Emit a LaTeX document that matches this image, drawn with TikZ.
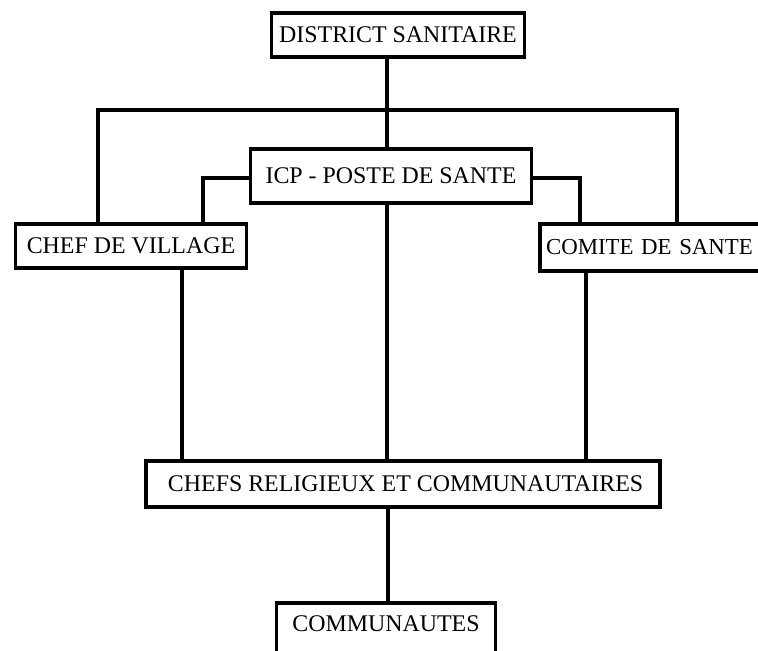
\documentclass[tikz,border=0pt]{standalone}
\usepackage{fontspec}
\setmainfont{Liberation Serif}
\tikzset{
  box/.style={draw, line width=2.2pt, fill=white, inner sep=0pt, font=\fontsize{13.6}{16}\selectfont},
  link/.style={line width=2.2pt}
}
\begin{document}
\begin{tikzpicture}[x={(0.02cm,0)}, y={(0,-0.02cm)}]
\clip (0,0) rectangle (758,650);
\fill[white] (0,0) rectangle (758,650);

\node[box, minimum width=144pt, minimum height=24.9pt] (dist) at (398, 35)  {DISTRICT SANITAIRE};
\node[box, minimum width=159.9pt, minimum height=30.6pt] (icp) at (391, 176) {ICP - POSTE DE SANTE};
\node[box, minimum width=131.5pt, minimum height=24.9pt] (chef) at (131, 246) {CHEF DE VILLAGE};
\node[box, anchor=west, inner xsep=3.5pt, text width=127pt, align=left, minimum height=26.6pt, font=\fontsize{13}{16}\selectfont] (comite) at (538, 247.5) {COMITE DE SANTE};
\node[box, minimum width=292.5pt, minimum height=26.1pt] (rel) at (403, 484) {\hspace{3pt}CHEFS RELIGIEUX ET COMMUNAUTAIRES};
\node[box, anchor=north, minimum width=124.7pt, inner ysep=6.8pt, text height=9.6pt, text depth=15.3pt] (comm) at (386, 601) {COMMUNAUTES};

\coordinate (bar)  at (387, 110);
\coordinate (barL) at (98, 110);
\coordinate (barR) at (677, 110);
\coordinate (stubL) at (203, 178);
\coordinate (stubR) at (580, 178);

\draw[link] (dist.south -| bar) -- (icp.north -| bar);
\draw[link] (chef.north -| barL) -- (barL) -- (barR) -- (comite.north -| barR);
\draw[link] (icp.west |- stubL) -- (stubL) -- (chef.north -| stubL);
\draw[link] (icp.east |- stubR) -- (stubR) -- (comite.north -| stubR);
\draw[link] (chef.south -| 182, 0) -- (rel.north -| 182, 0);
\draw[link] (icp.south -| bar) -- (rel.north -| bar);
\draw[link] (comite.south -| 586, 0) -- (rel.north -| 586, 0);
\draw[link] (rel.south -| 388, 0) -- (comm.north -| 388, 0);
\end{tikzpicture}
\end{document}
